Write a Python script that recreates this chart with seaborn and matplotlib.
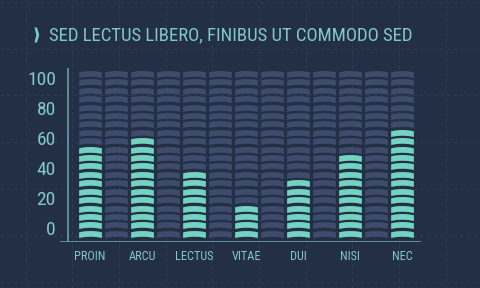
import numpy as np
import pandas as pd
import matplotlib
matplotlib.use("Agg")
import matplotlib.pyplot as plt
from matplotlib.path import Path
from matplotlib.patches import Polygon
from matplotlib import font_manager
import seaborn as sns

# ---- data ----
categories = ["PROIN", "ARCU", "LECTUS", "VITAE", "DUI", "NISI", "NEC"]
values = [55, 60, 40, 20, 35, 50, 65]
max_value = 100
symbol_value = 5          # value represented by one symbol
y_ticks = [0, 20, 40, 60, 80, 100]

# ---- style ----
BG = "#232f44"
TEAL = "#72d3c1"
SLATE = "#3e4b6d"
TEXT = "#82c9c6"
AXIS = "#6b9ea6"
GRID = "#2f3c53"

sns.set_theme(style="dark")

# find a condensed font file
narrow = None
for f in font_manager.fontManager.ttflist:
    if "Narrow" in f.name or "Condensed" in f.name or f.stretch in ("condensed", "semi-condensed",
                                                                    "extra-condensed") or "Condensed" in f.fname:
        if f.weight in ("normal", 400, "regular", "book") and f.style == "normal":
            narrow = f
            if "Liberation" in f.name or "Roboto" in f.name:
                break
if narrow is not None:
    fp_kw = dict(fname=narrow.fname)
else:
    fp_kw = dict(family="DejaVu Sans")

def FP(size):
    return font_manager.FontProperties(size=size, **fp_kw)

fig = plt.figure(figsize=(4.8, 2.88), dpi=100)
fig.patch.set_facecolor(BG)

# background dashed grid decoration
bg = fig.add_axes([0, 0, 1, 1], zorder=0)
bg.set_xlim(0, 480)
bg.set_ylim(288, 0)
bg.axis("off")
for i in range(11):
    bg.axvline(25.5 + 46.7 * i, color=GRID, lw=0.8, ls=(0, (3, 3)))
for j in range(7):
    bg.axhline(2 + 46.7 * j, color=GRID, lw=0.8, ls=(0, (3, 3)))

# title decoration and title
bg.add_patch(Polygon([[34.5, 27.5], [37, 27.5], [39.2, 35], [37, 42.5], [34.5, 42.5], [36.4, 35]],
                     closed=True, color=TEAL, lw=0))
title = bg.text(49, 35.5, "SED LECTUS LIBERO, FINIBUS UT COMMODO SED", color=TEXT,
                fontproperties=FP(15), va="center", ha="left")

ax = fig.add_axes([60 / 480, 46 / 288, 361 / 480, 174 / 288], zorder=1)
ax.set_facecolor("none")

# arch-shaped symbol
xs = np.linspace(-1, 1, 21)
h, r = 0.5, 0.11
top = h / 2 + r * (1 - xs ** 2) - r / 2
bot = top - h
verts = np.concatenate([np.column_stack([xs, top]), np.column_stack([xs[::-1], bot[::-1]])])
arch = Path(np.vstack([verts, verts[:1]]), closed=True)

n_sym = max_value // symbol_value
n_cols = 2 * len(categories) - 1
# symbol k center on the value axis
y0, step = -3.87, 5.61

bg_rows = [(c, y0 + step * k) for c in range(n_cols) for k in range(n_sym)]
df_bg = pd.DataFrame(bg_rows, columns=["x", "y"])
fg_rows = [(2 * i, y0 + step * k) for i, v in enumerate(values) for k in range(int(round(v / symbol_value)))]
df_fg = pd.DataFrame(fg_rows, columns=["x", "y"])

size_pt = 22.7 * 72 / 100
sns.scatterplot(data=df_bg, x="x", y="y", marker=arch, s=size_pt ** 2, color=SLATE,
                linewidth=0, ax=ax, zorder=2)
sns.scatterplot(data=df_fg, x="x", y="y", marker=arch, s=size_pt ** 2, color=TEAL,
                linewidth=0, ax=ax, zorder=3)

ax.set_xlim(-1.154, 12.73)
ax.set_ylim(-9.33, 106.67)
ax.set_xticks(range(0, n_cols, 2))
ax.set_xticklabels(categories, fontproperties=FP(8.8))
ax.set_yticks(y_ticks)
ax.set_yticklabels([str(t) for t in y_ticks], fontproperties=FP(14))
ax.tick_params(axis="x", length=0, pad=6, labelcolor=TEXT)
ax.tick_params(axis="y", length=0, pad=3, labelcolor=TEXT)
ax.set_xlabel("")
ax.set_ylabel("")
ax.grid(False)
for s in ax.spines.values():
    s.set_visible(False)
ax.axhline(-9.33, color=AXIS, lw=1.2, zorder=4)
ax.axvline(-0.865, color=AXIS, lw=1.2, zorder=4)

# fit title width to the reference span (x 49 -> 415)
fig.canvas.draw()
bb = title.get_window_extent()
w = bb.width
if w > 0:
    title.set_fontproperties(FP(15 * 366 / w))

fig.savefig("out.png", dpi=100, facecolor=BG)
